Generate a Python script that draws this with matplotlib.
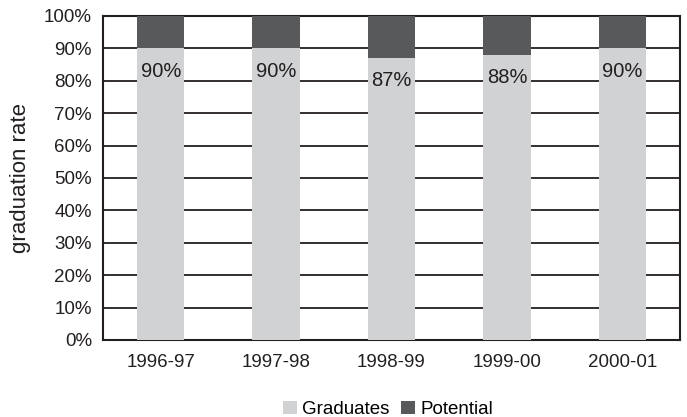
import matplotlib
matplotlib.use("Agg")
import matplotlib.pyplot as plt
import numpy as np

plt.rcParams['font.family'] = ['Liberation Sans', 'DejaVu Sans']

years = ["1996-97", "1997-98", "1998-99", "1999-00", "2000-01"]
graduates = [90, 90, 87, 88, 90]
potential = [100 - g for g in graduates]
labels = ["90%", "90%", "87%", "88%", "90%"]

fig = plt.figure(figsize=(6.87, 4.17), dpi=100)
ax = fig.add_axes([103/687, 1 - 340/417, 577/687, 324/417])

x = np.arange(len(years))
w = 0.41
ax.bar(x, graduates, w, color="#d1d2d4", label="Graduates", zorder=3)
ax.bar(x, potential, w, bottom=graduates, color="#58595b", label="Potential", zorder=3)

for xi, g, lab in zip(x, graduates, labels):
    ax.text(xi, g - 7, lab, ha="center", va="center", fontsize=14.5, color="#231f20", zorder=4)

ax.set_ylim(0, 100)
ax.set_xlim(-0.5, len(years) - 0.5)
ax.set_yticks(np.arange(0, 101, 10))
ax.set_yticklabels([f"{v}%" for v in range(0, 101, 10)], fontsize=13.5, color="#231f20")
ax.set_xticks(x)
ax.set_xticklabels(years, fontsize=13.5, color="#231f20")
ax.tick_params(length=0, pad=8)
ax.tick_params(axis="x", pad=10)
ax.yaxis.grid(True, color="#231f20", linewidth=1.3, zorder=1)
ax.set_axisbelow(True)
for s in ax.spines.values():
    s.set_linewidth(1.5)
    s.set_color("#231f20")

ax.set_ylabel("graduation rate", fontsize=16, color="#231f20", labelpad=9)

fig.legend(loc="lower center", bbox_to_anchor=(0.565, -0.043), ncol=2, frameon=False,
           fontsize=13.5, handlelength=0.75, handleheight=0.75, handletextpad=0.3, columnspacing=0.6)

fig.savefig("out.png", dpi=100)
